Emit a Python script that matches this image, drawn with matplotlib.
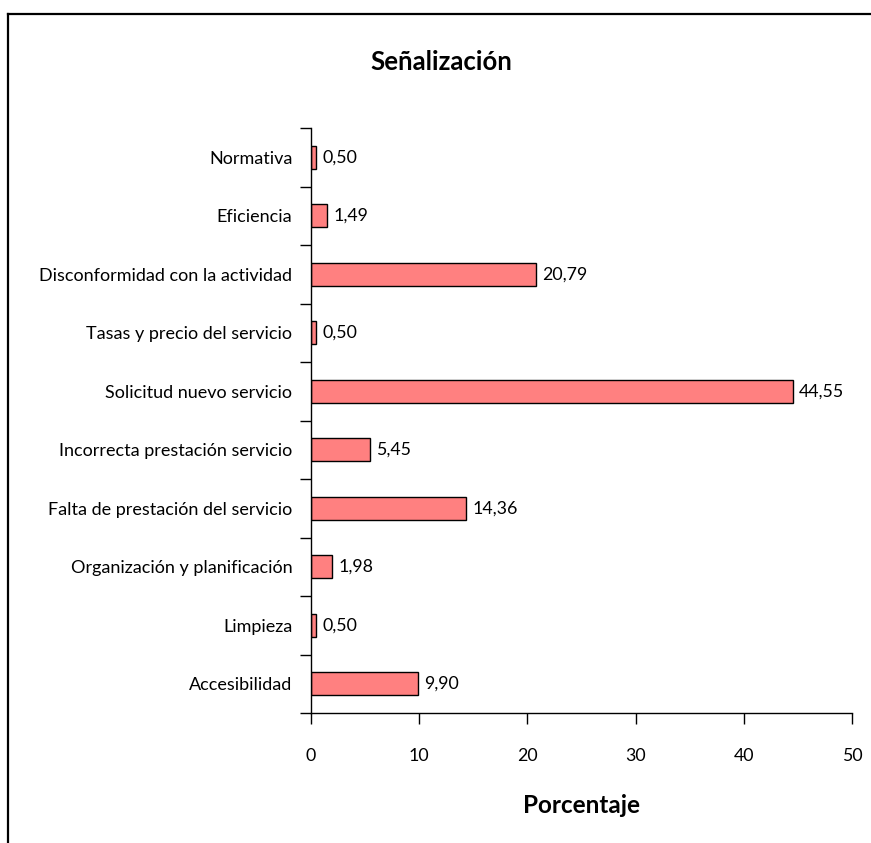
import matplotlib.pyplot as plt
from matplotlib.lines import Line2D

categories = ["Accesibilidad", "Limpieza", "Organización y planificación",
              "Falta de prestación del servicio", "Incorrecta prestación servicio",
              "Solicitud nuevo servicio", "Tasas y precio del servicio",
              "Disconformidad con la actividad", "Eficiencia", "Normativa"]
values = [9.90, 0.50, 1.98, 14.36, 5.45, 44.55, 0.50, 20.79, 1.49, 0.50]
xticks = [0, 10, 20, 30, 40, 50]

plt.rcParams['font.family'] = ['Lato', 'DejaVu Sans']

fig = plt.figure(figsize=(8.71, 8.43), dpi=100)
ax = fig.add_axes([311 / 871, 1 - 713 / 843, 541 / 871, 585 / 843])

pos = list(range(len(categories)))
ax.barh(pos, values, height=0.4, color='#FF8080', edgecolor='black', linewidth=1)
for p, v in zip(pos, values):
    ax.text(v + 0.55, p, f"{v:.2f}".replace('.', ','), va='center', ha='left', fontsize=12.8)

ax.set_xlim(0, 50)
ax.set_ylim(-0.5, len(categories) - 0.5)
ax.set_xticks(xticks)
ax.set_xticklabels([str(t) for t in xticks], fontsize=12.8)
ax.tick_params(axis='x', direction='out', length=8, width=1, pad=17)

ax.set_yticks(pos)
ax.set_yticklabels(categories, fontsize=13)
ax.set_yticks([p - 0.5 for p in pos] + [len(categories) - 0.5], minor=True)
ax.tick_params(axis='y', which='major', length=0, pad=13.5)
ax.tick_params(axis='y', which='minor', direction='out', length=8, width=1)

for s in ['top', 'right']:
    ax.spines[s].set_visible(False)
for s in ['left', 'bottom']:
    ax.spines[s].set_linewidth(1)

ax.set_xlabel("Porcentaje", fontsize=17.5, fontweight='bold', labelpad=22)
fig.text(441 / 871, 1 - 62 / 843, "Señalización", fontsize=18.5, fontweight='bold',
         ha='center', va='center')

# outer frame (cut at right and bottom edges)
fig.add_artist(Line2D([8 / 871, 8 / 871], [0, 1 - 14 / 843], color='black', lw=1.6,
                      transform=fig.transFigure))
fig.add_artist(Line2D([8 / 871, 1], [1 - 14 / 843, 1 - 14 / 843], color='black', lw=1.6,
                      transform=fig.transFigure))

fig.savefig("out.png", dpi=100)
